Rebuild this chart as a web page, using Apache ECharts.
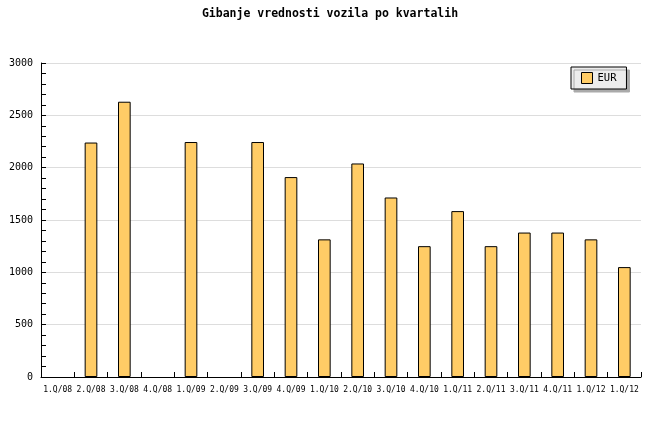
<!DOCTYPE html>
<html>
<head>
<meta charset="utf-8">
<script src="https://cdn.jsdelivr.net/npm/echarts@6/dist/echarts.min.js"></script>
<style>html,body{margin:0;padding:0;background:#fff}#c{width:660px;height:440px}</style>
</head>
<body>
<div id="c"></div>
<script>
const categories = ['1.Q/08','2.Q/08','3.Q/08','4.Q/08','1.Q/09','2.Q/09','3.Q/09','4.Q/09','1.Q/10','2.Q/10','3.Q/10','4.Q/10','1.Q/11','2.Q/11','3.Q/11','4.Q/11','1.Q/12','1.Q/12'];
const eurValues = [null, 2240, 2630, null, 2245, null, 2245, 1910, 1315, 2040, 1715, 1250, 1585, 1250, 1380, 1380, 1315, 1050];
const seriesName = 'EUR';
const titleText = 'Gibanje vrednosti vozila po kvartalih';

const mono = '"DejaVu Sans Mono", "Liberation Mono", monospace';
const chart = echarts.init(document.getElementById('c'), null, {renderer: 'canvas'});
chart.setOption({
  animation: false,
  backgroundColor: '#fff',
  title: {
    text: titleText, left: 'center', top: 3,
    textStyle: {fontFamily: mono, fontSize: 11.5, fontWeight: 'bold', color: '#000'}
  },
  legend: {
    data: [seriesName], left: 571, top: 67, orient: 'vertical',
    backgroundColor: '#ececec', borderColor: '#000', borderWidth: 1,
    padding: [5, 10, 5, 10],
    shadowColor: '#aaa', shadowBlur: 0, shadowOffsetX: 3, shadowOffsetY: 3,
    icon: 'rect', itemWidth: 11, itemHeight: 11, itemGap: 0,
    itemStyle: {borderColor: '#000', borderWidth: 1},
    textStyle: {fontFamily: mono, fontSize: 10.5, color: '#000'}
  },
  grid: {left: 41, right: 19, top: 63, bottom: 63, containLabel: false},
  xAxis: {
    type: 'category', data: categories,
    axisLine: {lineStyle: {color: '#000', width: 1}},
    axisTick: {show: true, inside: true, length: 5, interval: 0, lineStyle: {color: '#000'}},
    axisLabel: {interval: 0, fontFamily: mono, fontSize: 8, color: '#000', margin: 9},
    splitLine: {show: false}
  },
  yAxis: {
    type: 'value', min: 0, max: 3000, interval: 500,
    axisLine: {show: true, lineStyle: {color: '#000', width: 1}},
    axisTick: {show: true, inside: true, length: 5, lineStyle: {color: '#000'}},
    minorTick: {show: true, splitNumber: 5, length: 5, lineStyle: {color: '#000'}},
    axisLabel: {fontFamily: mono, fontSize: 10, color: '#000', margin: 8, formatter: v => String(v)},
    splitLine: {show: true, lineStyle: {color: '#dddddd', width: 1}}
  },
  series: [{
    name: seriesName, type: 'bar', data: eurValues, barWidth: '38%',
    itemStyle: {color: '#ffcc66', borderColor: '#000', borderWidth: 1}
  }]
});
</script>
</body>
</html>
